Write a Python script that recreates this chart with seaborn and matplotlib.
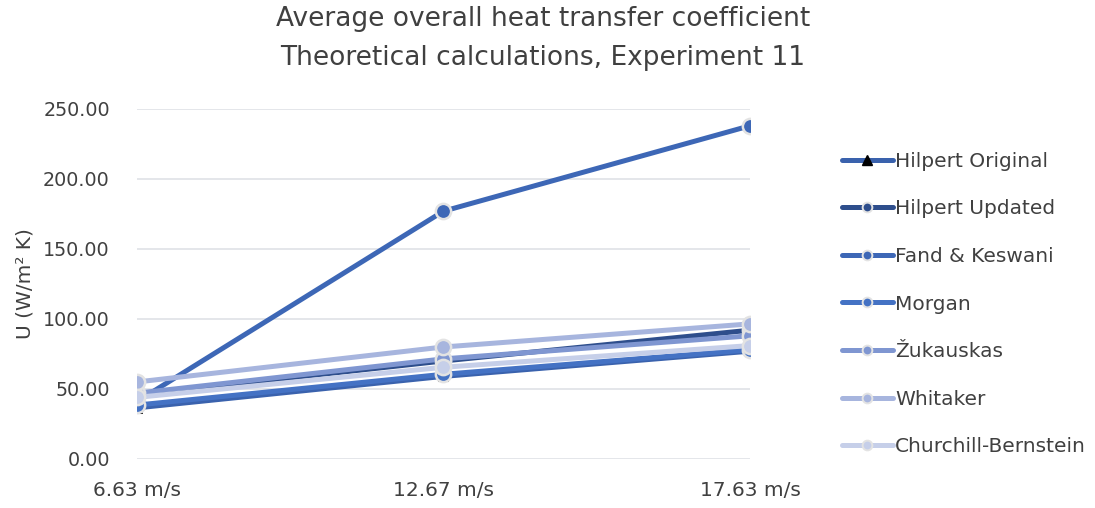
import matplotlib
matplotlib.use("Agg")
import matplotlib.pyplot as plt
from matplotlib.lines import Line2D
import seaborn as sns
import pandas as pd

# Air velocities (categories)
velocities = ["6.63 m/s", "12.67 m/s", "17.63 m/s"]

# Average overall heat transfer coefficient U (W/m² K) per correlation
hilpert_original = [36.5, 59.0, 77.0]
hilpert_updated = [46.0, 70.0, 92.0]
fand_keswani = [41.0, 177.0, 238.0]
morgan = [38.5, 60.5, 78.0]
zukauskas = [47.0, 71.5, 88.0]
whitaker = [55.0, 80.0, 96.5]
churchill_bernstein = [44.0, 65.5, 81.0]

series_names = ["Hilpert Original", "Hilpert Updated", "Fand & Keswani", "Morgan",
                "Žukauskas", "Whitaker", "Churchill-Bernstein"]
series_values = [hilpert_original, hilpert_updated, fand_keswani, morgan,
                 zukauskas, whitaker, churchill_bernstein]
colors = ["#3A62AD", "#2E4E8C", "#3D67B6", "#4472C4", "#7F96D1", "#A7B5DE", "#C6CFE9"]

rows = []
for name, vals in zip(series_names, series_values):
    for i, (cat, v) in enumerate(zip(velocities, vals)):
        rows.append({"series": name, "pos": i, "velocity": cat, "U": v})
df = pd.DataFrame(rows)

sns.set_theme(style="white")
plt.rcParams["font.family"] = ["DejaVu Sans"]

fig = plt.figure(figsize=(10.95, 5.08), dpi=100)
ax = fig.add_axes([0.125, 0.0965, 0.56, 0.689])

for name, color in zip(series_names, colors):
    sub = df[df["series"] == name]
    if name == "Hilpert Original":
        sns.lineplot(data=sub, x="pos", y="U", ax=ax, color=color, linewidth=3.6,
                     marker="^", markersize=7, markerfacecolor="black",
                     markeredgecolor="black", legend=False)
    else:
        sns.lineplot(data=sub, x="pos", y="U", ax=ax, color=color, linewidth=3.6,
                     marker="o", markersize=11, markerfacecolor=color,
                     markeredgecolor="#E3E3E3", markeredgewidth=1.8, legend=False)

ax.set_xlim(0, 2)
ax.set_ylim(0, 250)
ax.set_yticks([0, 50, 100, 150, 200, 250])
ax.set_yticklabels([f"{t:.2f}" for t in [0, 50, 100, 150, 200, 250]])
ax.set_xticks([0, 1, 2])
ax.set_xticklabels(velocities)
ax.tick_params(axis="both", colors="#404040", length=0)
ax.tick_params(axis="x", labelsize=14.5, pad=16)
ax.tick_params(axis="y", labelsize=13.8, pad=19.5)
ax.grid(axis="y", color="#DCDFE4", linewidth=1.1)
ax.set_axisbelow(True)
for s in ax.spines.values():
    s.set_visible(False)
ax.set_xlabel("")
ax.set_ylabel("U (W/m² K)", fontsize=14.5, color="#404040", labelpad=6)

fig.text(0.496, 0.962, "Average overall heat transfer coefficient", ha="center", va="center",
         fontsize=19, color="#404040")
fig.text(0.496, 0.885, "Theoretical calculations, Experiment 11", ha="center", va="center",
         fontsize=19, color="#404040")

handles = []
for name, color in zip(series_names, colors):
    if name == "Hilpert Original":
        h = Line2D([], [], color=color, linewidth=3.6, marker="^", markersize=7,
                   markerfacecolor="black", markeredgecolor="black")
    else:
        h = Line2D([], [], color=color, linewidth=3.6, marker="o", markersize=7,
                   markerfacecolor=color, markeredgecolor="#E3E3E3", markeredgewidth=1.4)
    handles.append(h)
leg = fig.legend(handles=handles, labels=series_names, loc="upper left",
                 bbox_to_anchor=(0.752, 0.737), frameon=False, fontsize=14.5,
                 handlelength=2.55, handletextpad=0.12, labelspacing=1.42,
                 labelcolor="#404040")

fig.savefig("out.png", dpi=100)
